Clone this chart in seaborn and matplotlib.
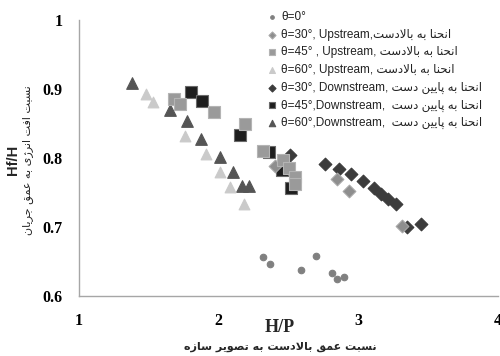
import matplotlib
matplotlib.use("Agg")
import matplotlib.pyplot as plt
import seaborn as sns
import pandas as pd

# ---------------- data ----------------
theta0_x = [2.32, 2.37, 2.59, 2.70, 2.81, 2.85, 2.90]
theta0_y = [0.657, 0.647, 0.637, 0.658, 0.634, 0.625, 0.627]

up30_x = [2.40, 2.85, 2.93, 3.31]
up30_y = [0.788, 0.769, 0.752, 0.701]

up45_x = [1.68, 1.72, 1.97, 2.19, 2.32, 2.46, 2.50, 2.55, 2.55]
up45_y = [0.885, 0.878, 0.866, 0.850, 0.810, 0.797, 0.786, 0.772, 0.762]

up60_x = [1.48, 1.53, 1.76, 1.91, 2.01, 2.08, 2.18]
up60_y = [0.893, 0.881, 0.832, 0.806, 0.779, 0.758, 0.734]

down30_x = [2.51, 2.76, 2.86, 2.95, 3.03, 3.11, 3.16, 3.21, 3.27, 3.35, 3.45]
down30_y = [0.804, 0.792, 0.784, 0.777, 0.766, 0.757, 0.748, 0.740, 0.733, 0.700, 0.704]

down45_x = [1.80, 1.88, 2.15, 2.36, 2.45, 2.52]
down45_y = [0.895, 0.883, 0.834, 0.808, 0.782, 0.757]

down60_x = [1.38, 1.65, 1.77, 1.87, 2.01, 2.10, 2.17, 2.22]
down60_y = [0.908, 0.869, 0.853, 0.828, 0.802, 0.779, 0.759, 0.760]

fa_up = "انحنا به بالادست"
fa_down = "انحنا به پایین دست"
labels = [
    ("θ=0°", None),
    ("θ=30°, Upstream,", fa_up),
    ("θ=45° , Upstream, ", fa_up),
    ("θ=60°, Upstream, ", fa_up),
    ("θ=30°, Downstream, ", fa_down),
    ("θ=45°,Downstream,  ", fa_down),
    ("θ=60°,Downstream,  ", fa_down),
]
xlabel_en = "H/P"
xlabel_fa = "نسبت عمق بالادست به تصویر سازه"
ylabel_en = "Hf/H"
ylabel_fa = "نسبت افت انرژی به عمق جریان"
x_ticks = [1, 2, 3, 4]
y_ticks = [0.6, 0.7, 0.8, 0.9, 1.0]
y_ticklabels = ["0.6", "0.7", "0.8", "0.9", "1"]

# ---------------- Persian shaping (visual order) ----------------
FORMS = {
    'ا': ('\uFE8D', '\uFE8E', None, None),
    'ب': ('\uFE8F', '\uFE90', '\uFE91', '\uFE92'),
    'پ': ('\uFB56', '\uFB57', '\uFB58', '\uFB59'),
    'ت': ('\uFE95', '\uFE96', '\uFE97', '\uFE98'),
    'ج': ('\uFE9D', '\uFE9E', '\uFE9F', '\uFEA0'),
    'ح': ('\uFEA1', '\uFEA2', '\uFEA3', '\uFEA4'),
    'د': ('\uFEA9', '\uFEAA', None, None),
    'ر': ('\uFEAD', '\uFEAE', None, None),
    'ز': ('\uFEAF', '\uFEB0', None, None),
    'ژ': ('\uFB8A', '\uFB8B', None, None),
    'س': ('\uFEB1', '\uFEB2', '\uFEB3', '\uFEB4'),
    'ص': ('\uFEB9', '\uFEBA', '\uFEBB', '\uFEBC'),
    'ع': ('\uFEC9', '\uFECA', '\uFECB', '\uFECC'),
    'ف': ('\uFED1', '\uFED2', '\uFED3', '\uFED4'),
    'ق': ('\uFED5', '\uFED6', '\uFED7', '\uFED8'),
    'ل': ('\uFEDD', '\uFEDE', '\uFEDF', '\uFEE0'),
    'م': ('\uFEE1', '\uFEE2', '\uFEE3', '\uFEE4'),
    'ن': ('\uFEE5', '\uFEE6', '\uFEE7', '\uFEE8'),
    'ه': ('\uFEE9', '\uFEEA', '\uFEEB', '\uFEEC'),
    'و': ('\uFEED', '\uFEEE', None, None),
    'ی': ('\uFBFC', '\uFBFD', '\uFBFE', '\uFBFF'),
}


def shape(s):
    out = []
    i = 0
    n = len(s)
    while i < n:
        c = s[i]
        if c not in FORMS:
            out.append(c)
            i += 1
            continue
        prev_j = i > 0 and s[i - 1] in FORMS and FORMS[s[i - 1]][2] is not None
        if c == 'ل' and i + 1 < n and s[i + 1] == 'ا':
            out.append('\uFEFC' if prev_j else '\uFEFB')
            i += 2
            continue
        next_j = i + 1 < n and s[i + 1] in FORMS and FORMS[c][2] is not None
        iso, fin, ini, med = FORMS[c]
        if prev_j and next_j:
            out.append(med)
        elif prev_j:
            out.append(fin)
        elif next_j:
            out.append(ini)
        else:
            out.append(iso)
        i += 1
    return ''.join(reversed(out))


# ---------------- figure ----------------
sns.set_theme(style="white")
plt.rcParams['font.family'] = ['Liberation Sans', 'DejaVu Sans']

fig = plt.figure(figsize=(5.0, 3.56), dpi=100)
ax = fig.add_axes([79 / 500, 60 / 356, 419 / 500, 276 / 356])

series = [
    (theta0_x, theta0_y, 'o', '#808080', '#808080', 22, 3),
    (up30_x, up30_y, 'D', '#8e8e8e', '#a8a8a8', 42, 4),
    (up45_x, up45_y, 's', '#9a9a9a', '#b4b4b4', 80, 5),
    (up60_x, up60_y, '^', '#cacaca', '#cacaca', 60, 4),
    (down30_x, down30_y, 'D', '#3c3c3c', '#3c3c3c', 42, 2),
    (down45_x, down45_y, 's', '#1e1e1e', '#6a6a6a', 70, 2),
    (down60_x, down60_y, '^', '#555555', '#555555', 70, 2),
]

for (xs, ys, mk, fc, ec, s, z), (en, fa) in zip(series, labels):
    df = pd.DataFrame({"x": xs, "y": ys})
    lab = en + (shape(fa) if fa else "")
    sns.scatterplot(data=df, x="x", y="y", marker=mk, s=s, color=fc,
                    edgecolor=ec, linewidth=0.8, ax=ax, zorder=z, label=lab)

ax.set_xlim(1, 4)
ax.set_ylim(0.6, 1.0)
ax.set_xticks(x_ticks)
ax.set_yticks(y_ticks)
ax.set_xticklabels([str(t) for t in x_ticks], fontfamily='Liberation Serif',
                   fontweight='bold', fontsize=11.5)
ax.set_yticklabels(y_ticklabels, fontfamily='Liberation Serif',
                   fontweight='bold', fontsize=11.5)
ax.set_xlabel("")
ax.set_ylabel("")
for side in ['top', 'right']:
    ax.spines[side].set_visible(False)
for side in ['left', 'bottom']:
    ax.spines[side].set_color('#a6a6a6')
    ax.spines[side].set_linewidth(1.0)
ax.tick_params(axis='both', which='major', direction='out', length=4,
               width=0.8, color='#a6a6a6', labelcolor='black')
ax.tick_params(axis='x', pad=8)
ax.tick_params(axis='y', pad=8)
ax.grid(False)

# axis titles
fig.text(280 / 500, 1 - 328 / 356, xlabel_en, ha='center', va='center',
         fontfamily='Liberation Serif', fontweight='bold', fontsize=13)
fig.text(280 / 500, 1 - 347 / 356, shape(xlabel_fa), ha='center', va='center',
         family=['DejaVu Sans'], fontweight='bold', fontsize=8)
fig.text(13 / 500, 1 - 160 / 356, ylabel_en, ha='center', va='center',
         rotation=90, fontfamily='Liberation Sans', fontweight='bold', fontsize=10.5)
fig.text(28 / 500, 1 - 160 / 356, shape(ylabel_fa), ha='center', va='center',
         rotation=90, family=['DejaVu Sans'], fontsize=8)

leg = ax.legend(loc='upper left', bbox_to_anchor=(266 / 500, 1 - 11 / 356),
                bbox_transform=fig.transFigure, frameon=False,
                prop={'family': ['Liberation Sans', 'DejaVu Sans'], 'size': 8.5},
                markerscale=0.55, handletextpad=0.3, handlelength=1.0,
                labelspacing=0.48, borderpad=0, borderaxespad=0)
for t in leg.get_texts():
    t.set_color('#222222')

fig.savefig("out.png", dpi=100, facecolor='white')
